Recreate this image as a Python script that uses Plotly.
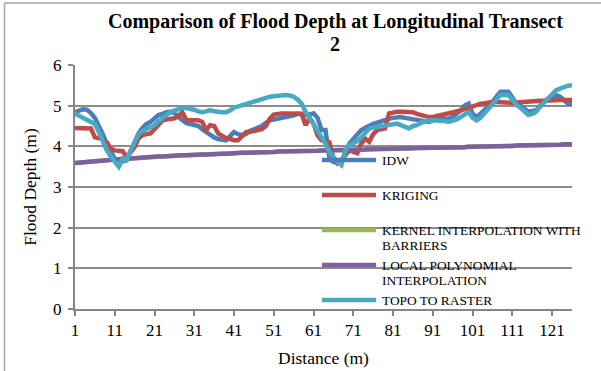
import plotly.graph_objects as go

# Distance along transect (m)
distance = list(range(1, 127))

idw = [
    4.84, 4.88, 4.91, 4.90, 4.82, 4.70, 4.52, 4.30, 4.05, 3.86,
    3.70, 3.60, 3.62, 3.66, 3.88, 4.10, 4.32, 4.46, 4.55, 4.60,
    4.68, 4.77, 4.80, 4.84, 4.85, 4.82, 4.72, 4.64, 4.57, 4.55,
    4.52, 4.50, 4.42, 4.35, 4.28, 4.22, 4.18, 4.16, 4.15, 4.25,
    4.35, 4.30, 4.28, 4.30, 4.38, 4.42, 4.45, 4.50, 4.58, 4.64,
    4.66, 4.68, 4.68, 4.70, 4.72, 4.76, 4.80, 4.78, 4.77, 4.78,
    4.81, 4.70, 4.40, 4.40, 3.70, 3.62, 3.60, 3.62, 3.85, 4.07,
    4.18, 4.30, 4.40, 4.46, 4.52, 4.55, 4.58, 4.62, 4.66, 4.68,
    4.70, 4.72, 4.72, 4.70, 4.68, 4.66, 4.64, 4.62, 4.61, 4.60,
    4.64, 4.67, 4.68, 4.68, 4.68, 4.72, 4.80, 4.89, 5.00, 5.05,
    4.80, 4.72, 4.80, 4.89, 5.00, 5.09, 5.22, 5.34, 5.34, 5.34,
    5.20, 5.05, 5.01, 4.92, 4.85, 4.87, 4.89, 5.00, 5.10, 5.18,
    5.22, 5.26, 5.22, 5.12, 5.05, 5.05,
]

kriging = [
    4.45, 4.45, 4.45, 4.45, 4.44, 4.22, 4.20, 4.18, 4.10, 3.95,
    3.90, 3.90, 3.88, 3.73, 3.85, 3.98, 4.20, 4.28, 4.30, 4.32,
    4.42, 4.52, 4.64, 4.66, 4.68, 4.69, 4.75, 4.84, 4.64, 4.64,
    4.64, 4.64, 4.60, 4.40, 4.52, 4.50, 4.32, 4.25, 4.20, 4.18,
    4.15, 4.15, 4.25, 4.35, 4.36, 4.38, 4.40, 4.42, 4.50, 4.68,
    4.78, 4.80, 4.81, 4.81, 4.81, 4.81, 4.82, 4.80, 4.52, 4.70,
    4.56, 4.27, 4.15, 4.13, 4.10, 3.70, 3.58, 3.66, 3.80, 3.91,
    3.86, 3.83, 4.07, 4.19, 4.11, 4.30, 4.40, 4.42, 4.44, 4.81,
    4.84, 4.85, 4.85, 4.85, 4.84, 4.84, 4.80, 4.77, 4.74, 4.72,
    4.72, 4.74, 4.76, 4.78, 4.81, 4.82, 4.84, 4.88, 4.92, 4.93,
    4.98, 5.02, 5.05, 5.06, 5.08, 5.09, 5.09, 5.08, 5.07, 5.07,
    5.07, 5.08, 5.09, 5.09, 5.09, 5.10, 5.11, 5.12, 5.12, 5.13,
    5.13, 5.14, 5.14, 5.14, 5.14, 5.14,
]

local_poly = [
    3.59, 3.60, 3.61, 3.62, 3.63, 3.63, 3.64, 3.65, 3.66, 3.67,
    3.67, 3.68, 3.69, 3.70, 3.70, 3.71, 3.72, 3.72, 3.73, 3.74,
    3.74, 3.75, 3.75, 3.76, 3.76, 3.77, 3.77, 3.78, 3.78, 3.79,
    3.79, 3.80, 3.80, 3.80, 3.81, 3.81, 3.82, 3.82, 3.82, 3.83,
    3.83, 3.83, 3.84, 3.84, 3.84, 3.85, 3.85, 3.85, 3.86, 3.86,
    3.86, 3.87, 3.87, 3.87, 3.87, 3.88, 3.88, 3.88, 3.89, 3.89,
    3.89, 3.89, 3.90, 3.90, 3.90, 3.90, 3.91, 3.91, 3.91, 3.91,
    3.92, 3.92, 3.92, 3.92, 3.93, 3.93, 3.93, 3.93, 3.94, 3.94,
    3.94, 3.94, 3.95, 3.95, 3.95, 3.95, 3.96, 3.96, 3.96, 3.96,
    3.97, 3.97, 3.97, 3.97, 3.98, 3.98, 3.98, 3.98, 3.98, 3.99,
    3.99, 3.99, 3.99, 4.00, 4.00, 4.00, 4.00, 4.01, 4.01, 4.01,
    4.01, 4.02, 4.02, 4.02, 4.02, 4.03, 4.03, 4.03, 4.03, 4.04,
    4.04, 4.04, 4.04, 4.05, 4.05, 4.05,
]

# Kernel interpolation coincides with the local polynomial surface
kernel = list(local_poly)

topo = [
    4.80, 4.75, 4.70, 4.68, 4.62, 4.55, 4.35, 4.10, 3.90, 3.75,
    3.62, 3.50, 3.70, 3.66, 3.90, 4.10, 4.30, 4.38, 4.42, 4.45,
    4.52, 4.62, 4.70, 4.78, 4.84, 4.88, 4.92, 4.94, 4.94, 4.93,
    4.90, 4.86, 4.84, 4.86, 4.89, 4.86, 4.84, 4.84, 4.84, 4.88,
    4.95, 4.98, 5.01, 5.04, 5.06, 5.10, 5.14, 5.16, 5.19, 5.22,
    5.23, 5.24, 5.26, 5.26, 5.25, 5.22, 5.15, 5.05, 4.85, 4.70,
    4.56, 4.40, 4.25, 4.07, 3.85, 3.72, 3.62, 3.54, 3.90, 4.03,
    4.08, 4.13, 4.22, 4.35, 4.44, 4.46, 4.48, 4.50, 4.51, 4.52,
    4.54, 4.56, 4.52, 4.48, 4.44, 4.50, 4.52, 4.58, 4.62, 4.64,
    4.64, 4.64, 4.63, 4.62, 4.60, 4.62, 4.66, 4.72, 4.80, 4.85,
    4.70, 4.64, 4.70, 4.81, 4.90, 5.00, 5.12, 5.26, 5.26, 5.26,
    5.15, 5.02, 4.95, 4.85, 4.77, 4.80, 4.85, 4.98, 5.10, 5.18,
    5.28, 5.38, 5.42, 5.46, 5.49, 5.50,
]

series_names = ["IDW", "KRIGING", "KERNEL INTERPOLATION WITH BARRIERS",
                "LOCAL POLYNOMIAL INTERPOLATION", "TOPO TO RASTER"]
legend_lines = [["IDW"], ["KRIGING"], ["KERNEL INTERPOLATION WITH", "BARRIERS"],
                ["LOCAL POLYNOMIAL", "INTERPOLATION"], ["TOPO TO RASTER"]]
series_values = [idw, kriging, kernel, local_poly, topo]
colors = ["#4A7EBB", "#BE4B48", "#98B954", "#7D60A0", "#46AAC5"]

title_lines = ["Comparison of Flood Depth at Longitudinal Transect", "2"]

x_ticks = list(range(1, 122, 10))
y_ticks = [0, 1, 2, 3, 4, 5, 6]

W, H = 601, 371
L, R, T, B = 75, 29, 65, 62
plot_w = W - L - R
plot_h = H - T - B
FONT = "Liberation Serif, Times New Roman, serif"

fig = go.Figure()
for name, vals, col in zip(series_names, series_values, colors):
    fig.add_trace(go.Scatter(
        x=distance, y=vals, name=name, mode="lines",
        line=dict(color=col, width=4.5, shape="linear"),
        showlegend=False,
    ))


def px_to_paper(px, py):
    return (px - L) / plot_w, (H - B - py) / plot_h


shapes = []
annotations = []

# Legend drawn inside the plot area (transparent background)
legend_y = [160, 195, 230, 265, 300]
line_step = 15.5
for lines, col, ly in zip(legend_lines, colors, legend_y):
    x0, y0 = px_to_paper(322, ly)
    x1, _ = px_to_paper(376, ly)
    shapes.append(dict(type="line", xref="paper", yref="paper",
                       x0=x0, x1=x1, y0=y0, y1=y0,
                       line=dict(color=col, width=4.5)))
    for i, txt in enumerate(lines):
        tx, ty = px_to_paper(380, ly + i * line_step)
        annotations.append(dict(text=txt, xref="paper", yref="paper",
                                x=tx, y=ty, xanchor="left", yanchor="middle",
                                showarrow=False,
                                font=dict(family=FONT, size=13.4, color="#000000")))

# Chart title, two centred lines
for txt, ty_px in zip(title_lines, [21, 44]):
    tx, ty = px_to_paper(335, ty_px)
    annotations.append(dict(text="<b>%s</b>" % txt, xref="paper", yref="paper",
                            x=tx, y=ty, xanchor="center", yanchor="middle",
                            showarrow=False,
                            font=dict(family=FONT, size=20, color="#000000")))

# Outer chart frame (left and top edges)
fx, fy = px_to_paper(4.5, 3)
shapes.append(dict(type="line", xref="paper", yref="paper",
                   x0=fx, x1=fx, y0=-B / plot_h, y1=fy,
                   line=dict(color="#A6A6A6", width=1.5)))
shapes.append(dict(type="line", xref="paper", yref="paper",
                   x0=fx, x1=(plot_w + R) / plot_w, y0=fy, y1=fy,
                   line=dict(color="#A6A6A6", width=1.5)))

fig.update_layout(
    width=W, height=H,
    margin=dict(l=L, r=R, t=T, b=B, autoexpand=False),
    paper_bgcolor="white", plot_bgcolor="white",
    font=dict(family=FONT, color="#000000"),
    shapes=shapes,
    annotations=annotations,
    showlegend=False,
)

fig.update_xaxes(
    range=[1, 126], tickmode="array", tickvals=x_ticks,
    ticktext=[str(v) for v in x_ticks],
    showgrid=False, zeroline=False, automargin=False,
    showline=True, linecolor="#868686", linewidth=2,
    ticks="outside", ticklen=5, tickcolor="#868686", tickwidth=1.5,
    tickfont=dict(family=FONT, size=17, color="#000000"),
    title=dict(text="Distance (m)", font=dict(family=FONT, size=17.5, color="#000000"),
               standoff=12),
)
fig.update_yaxes(
    range=[0, 6], tickmode="array", tickvals=y_ticks,
    showgrid=True, gridcolor="#8C8C8C", gridwidth=1.5, zeroline=False,
    automargin=False,
    showline=True, linecolor="#868686", linewidth=2,
    ticks="outside", ticklen=5, tickcolor="#868686", tickwidth=1.5,
    ticklabelstandoff=3,
    tickfont=dict(family=FONT, size=17, color="#000000"),
    title=dict(text="Flood Depth (m)", font=dict(family=FONT, size=17.5, color="#000000"),
               standoff=12),
)

fig.write_html("out.html")
